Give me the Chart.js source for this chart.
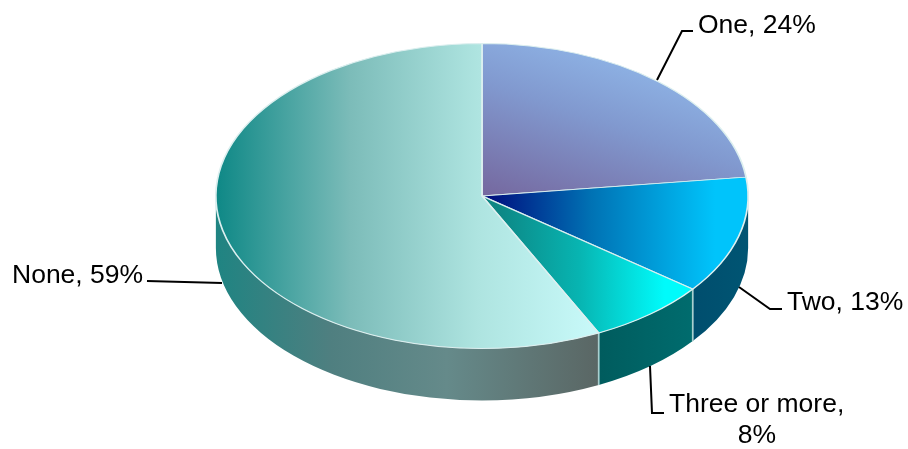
<!DOCTYPE html>
<html>
<head>
<meta charset="utf-8">
<script src="https://cdn.jsdelivr.net/npm/chart.js@4"></script>
<style>
    html, body { margin: 0; padding: 0; background: #ffffff; }
    canvas { display: block; }
</style>
</head>
<body>
<canvas id="pie" width="908" height="449"></canvas>
<script>
const categories = ['One', 'Two', 'Three or more', 'None'];
// The labels show these rounded
const shares = [23.9, 12.9, 7.6, 59.4];

// Pie is drawn as a circle and stretched sideways to look tilted
const STRETCH = 267 / 153;
const DEPTH = 52;
const CX = 482;
const CY = 196;

const ctx = document.getElementById('pie').getContext('2d');

// Page x to the unstretched space the arcs are painted in
function sx(x) {
    return CX + (x - CX) / STRETCH;
}

function gradient(x0, y0, x1, y1, stops) {
    const g = ctx.createLinearGradient(sx(x0), y0, sx(x1), y1);
    stops.forEach(s => g.addColorStop(s[0], s[1]));
    return g;
}

const topFills = [
    gradient(482, 195, 640, 40, [[0, '#75689f'], [0.55, '#8199cf'], [1, '#92bbec']]),
    gradient(490, 0, 715, 0, [[0, '#00107f'], [0.45, '#0072b4'], [1, '#00c4fb']]),
    gradient(495, 0, 665, 0, [[0, '#0d8583'], [0.5, '#07b5b2'], [1, '#00fbfb']]),
    gradient(216, 0, 600, 0, [[0, '#0e8886'], [0.35, '#7cbcb9'], [0.68, '#aee4e0'], [1, '#c9fafa']])
];

const wallFills = [
    '#8199cf',
    gradient(694, 0, 748, 0, [[0, '#004e6e'], [1, '#005573']]),
    gradient(600, 0, 694, 0, [[0, '#005c5e'], [1, '#006c6e']]),
    gradient(216, 0, 600, 0, [[0, '#1f8482'], [0.3, '#4f7f80'], [0.6, '#658a8a'], [1, '#5a6664']])
];

const leaders = [
    [[657, 80], [682, 31], [693, 31]],
    [[739, 287], [770, 309], [782, 309]],
    [[650, 366], [652, 413], [664, 413]],
    [[147, 281], [222, 283]]
];

function label(i) {
    return `${categories[i]}, ${Math.round(shares[i])}%`;
}

// Side wall under the front half of the pie, then stretch for the top face
const tiltPlugin = {
    id: 'tilt',
    beforeDatasetsDraw(chart) {
        const c = chart.ctx;
        const arcs = chart.getDatasetMeta(0).data;
        c.save();
        c.translate(arcs[0].x, 0);
        c.scale(STRETCH, 1);
        c.translate(-arcs[0].x, 0);
        arcs.forEach((arc, i) => {
            const a = Math.max(arc.startAngle, 0);
            const b = Math.min(arc.endAngle, Math.PI);
            if (b <= a) return;
            c.beginPath();
            c.arc(arc.x, arc.y, arc.outerRadius, a, b);
            c.arc(arc.x, arc.y + DEPTH, arc.outerRadius, b, a, true);
            c.closePath();
            c.fillStyle = wallFills[i];
            c.fill();
        });
        // Light seams where slices meet on the wall
        arcs.forEach(arc => {
            const a = arc.startAngle;
            if (a <= 0 || a >= Math.PI) return;
            const x = arc.x + arc.outerRadius * Math.cos(a);
            const y = arc.y + arc.outerRadius * Math.sin(a);
            c.beginPath();
            c.moveTo(x, y);
            c.lineTo(x, y + DEPTH);
            c.strokeStyle = '#a9cfcf';
            c.lineWidth = 1;
            c.stroke();
        });
    },
    afterDatasetsDraw(chart) {
        const c = chart.ctx;
        c.restore();

        c.strokeStyle = '#000000';
        c.lineWidth = 2;
        leaders.forEach(line => {
            c.beginPath();
            line.forEach((p, i) => i ? c.lineTo(p[0], p[1]) : c.moveTo(p[0], p[1]));
            c.stroke();
        });

        c.fillStyle = '#000000';
        c.font = "26.5px 'Liberation Sans', sans-serif";
        c.textBaseline = 'alphabetic';
        c.textAlign = 'left';
        c.fillText(label(0), 698, 33);
        c.fillText(label(1), 787, 310);
        c.fillText(`${categories[2]},`, 669, 412);
        c.fillText(label(3), 12, 283);
        c.textAlign = 'center';
        c.fillText(`${Math.round(shares[2])}%`, 757, 443);
    }
};

new Chart(ctx, {
    type: 'pie',
    data: {
        labels: categories,
        datasets: [{
            data: shares,
            backgroundColor: context => topFills[context.dataIndex],
            borderColor: '#dcefef',
            borderWidth: 1
        }]
    },
    options: {
        responsive: false,
        animation: false,
        events: [],
        layout: {
            padding: { top: CY - 153, bottom: 449 - (CY + 153), left: 2 * CX - 908, right: 0 }
        },
        plugins: {
            legend: { display: false },
            tooltip: { enabled: false }
        }
    },
    plugins: [tiltPlugin]
});
</script>
</body>
</html>
